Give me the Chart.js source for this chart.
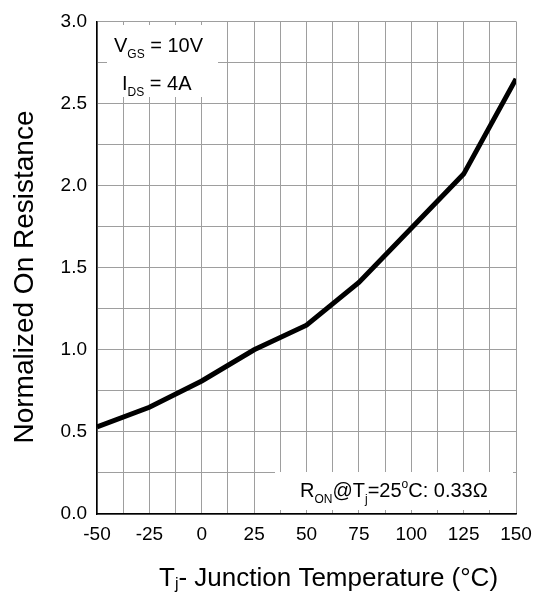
<!DOCTYPE html>
<html>
<head>
<meta charset="utf-8">
<script src="https://cdn.jsdelivr.net/npm/chart.js@4.4.1/dist/chart.umd.min.js"></script>
<style>
  html, body { margin: 0; padding: 0; background: #fff; }
</style>
</head>
<body>
<canvas id="myGraph" width="541" height="596"></canvas>
<script>
// junction temperature (°C) and normalized on resistance
const temps = [-50, -25, 0, 25, 50, 75, 100, 125, 150];
const ronNorm = [0.53, 0.65, 0.81, 1.0, 1.15, 1.41, 1.74, 2.07, 2.65];

const xLabelTicks = [-50, -25, 0, 25, 50, 75, 100, 125, 150];
const yLabelTicks = [0.0, 0.5, 1.0, 1.5, 2.0, 2.5, 3.0];

const FONT = '"Liberation Sans", Arial, sans-serif';

// draws a run of text with sub/superscript pieces
function drawRich(ctx, x, y, parts, size, subDy) {
  ctx.textAlign = 'left';
  ctx.textBaseline = 'alphabetic';
  parts.forEach(p => {
    let s = size, dy = 0;
    if (p[1] === 'sub') { s = Math.round(size * 0.6); dy = subDy || 6; }
    if (p[1] === 'sup') { s = Math.round(size * 0.6); dy = -9; }
    ctx.font = s + 'px ' + FONT;
    ctx.fillText(p[0], x, y + dy);
    x += ctx.measureText(p[0]).width;
  });
}

const notes = {
  id: 'notes',
  beforeDatasetsDraw(chart) {
    const ctx = chart.ctx;
    ctx.save();
    ctx.fillStyle = '#fff';
    ctx.fillRect(107, 25, 111, 72);
    ctx.fillRect(275, 472, 238, 38);
    ctx.fillStyle = '#000';
    drawRich(ctx, 114, 52, [['V'], ['GS', 'sub'], [' = 10V']], 20);
    drawRich(ctx, 122, 90, [['I'], ['DS', 'sub'], [' = 4A']], 20);
    drawRich(ctx, 300, 497, [['R'], ['ON', 'sub'], ['@T'], ['j', 'sub'], ['=25'], ['o', 'sup'], ['C: 0.33\u03A9']], 20);
    ctx.restore();
  },
  afterDraw(chart) {
    const ctx = chart.ctx;
    ctx.save();
    ctx.fillStyle = '#000';
    drawRich(ctx, 159, 586, [['T'], ['j', 'sub'], ['- Junction Temperature (\u00B0C)']], 26, 3);
    ctx.translate(33, 277);
    ctx.rotate(-Math.PI / 2);
    ctx.font = '28px ' + FONT;
    ctx.textAlign = 'center';
    ctx.textBaseline = 'alphabetic';
    ctx.fillText('Normalized On Resistance', 0, 0);
    ctx.restore();
  }
};

const graph = document.getElementById('myGraph');

const myGraph = new Chart(graph, {
  type: 'line',
  data: {
    datasets: [{
      data: temps.map((t, i) => ({ x: t, y: ronNorm[i] })),
      borderColor: '#000',
      borderWidth: 5,
      pointRadius: 0,
      tension: 0,
      fill: false
    }]
  },
  options: {
    responsive: false,
    animation: false,
    layout: { padding: { top: 16, right: 25, left: 0, bottom: 0 } },
    plugins: { legend: { display: false }, tooltip: { enabled: false } },
    scales: {
      x: {
        type: 'linear',
        min: -50,
        max: 150,
        afterFit(scale) { scale.height = 82; },
        afterBuildTicks(scale) {
          const t = [];
          for (let v = -50; v <= 150; v += 12.5) t.push({ value: v });
          scale.ticks = t;
        },
        ticks: {
          autoSkip: false,
          maxRotation: 0,
          padding: 9,
          color: '#000',
          font: { family: FONT, size: 19 },
          callback: v => xLabelTicks.includes(v) ? String(v) : ''
        },
        grid: { color: '#9e9e9e', lineWidth: 1, drawTicks: false },
        border: { color: '#000', width: 1.5 }
      },
      y: {
        min: 0,
        max: 3,
        afterFit(scale) { scale.width = 97; },
        afterBuildTicks(scale) {
          const t = [];
          for (let v = 0; v <= 3.0001; v += 0.25) t.push({ value: Math.round(v * 100) / 100 });
          scale.ticks = t;
        },
        ticks: {
          autoSkip: false,
          padding: 10,
          color: '#000',
          font: { family: FONT, size: 19 },
          callback: v => yLabelTicks.includes(v) ? v.toFixed(1) : ''
        },
        grid: { color: '#9e9e9e', lineWidth: 1, drawTicks: false },
        border: { color: '#000', width: 1.5 }
      }
    }
  },
  plugins: [notes]
});
</script>
</body>
</html>
